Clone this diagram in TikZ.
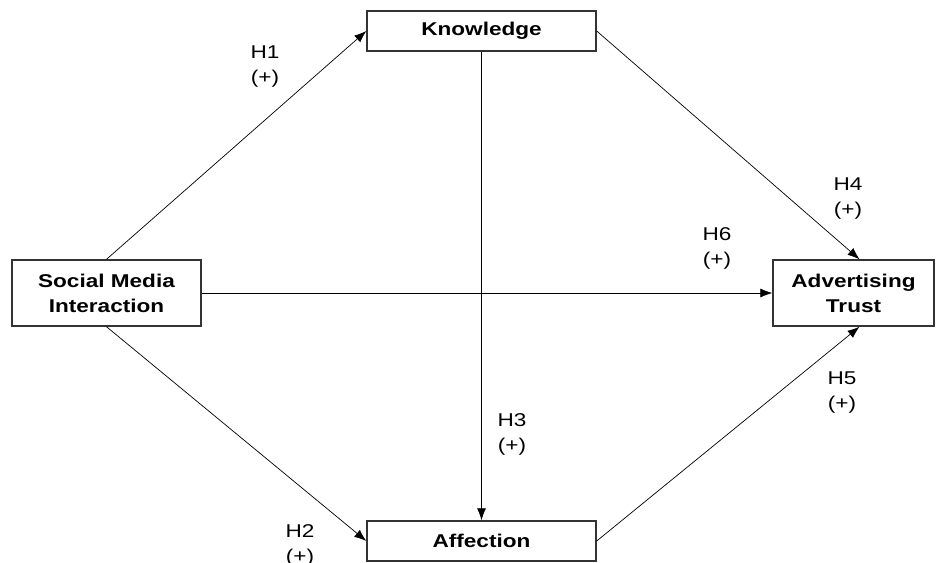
\documentclass[tikz,border=0pt]{standalone}
\usepackage{fontspec}
\setmainfont[FakeStretch=1.22]{Liberation Sans}
\usetikzlibrary{arrows.meta,positioning}
\newcommand{\diagfont}{\fontsize{18.5}{25}\selectfont}
\tikzstyle{var} = [rectangle, draw=black!80, line width=1.4pt, fill=white, align=center, inner sep=0pt, font=\diagfont\bfseries]
\tikzstyle{hyp} = [align=center, inner sep=0pt, font=\diagfont]
\tikzstyle{arrow} = [line width=0.7pt, -{Latex[length=12pt,width=9pt]}]

\begin{document}
\begin{tikzpicture}[x=1pt, y=-1pt]
  \useasboundingbox (0,0) rectangle (944,562);
  \clip (0,0) rectangle (944,562);

  \node[var, minimum width=189pt, minimum height=66pt] (smi) at (106.5,293) {Social Media\\Interaction};
  \node[var, minimum width=229pt, minimum height=40pt] (know) at (481.5,31) {Knowledge};
  \node[var, minimum width=229pt, minimum height=40pt] (aff) at (481.5,541) {Affection};
  \node[var, minimum width=161pt, minimum height=66pt] (trust) at (853.5,293) {Advertising\\Trust};

  \draw[arrow] (smi.north) -- (know.west);
  \draw[arrow] (smi.south) -- (aff.west);
  \draw[arrow] (smi.east) -- (trust.west);
  \draw[arrow] (know.south) -- (aff.north);
  \draw[arrow] (know.east) -- ([xshift=6pt]trust.north);
  \draw[arrow] (aff.east) -- ([xshift=6pt]trust.south);

  % hypotheses
  \node[hyp] (h1) at (265,67) {H1\\(+)};
  \node[hyp] (h2) at (300,545) {H2\\(+)};
  \node[hyp] (h3) at (512,434) {H3\\(+)};
  \node[hyp] (h4) at (848,199) {H4\\(+)};
  \node[hyp] (h5) at (842,393) {H5\\(+)};
  \node[hyp] (h6) at (717,248) {H6\\(+)};
\end{tikzpicture}
\end{document}
